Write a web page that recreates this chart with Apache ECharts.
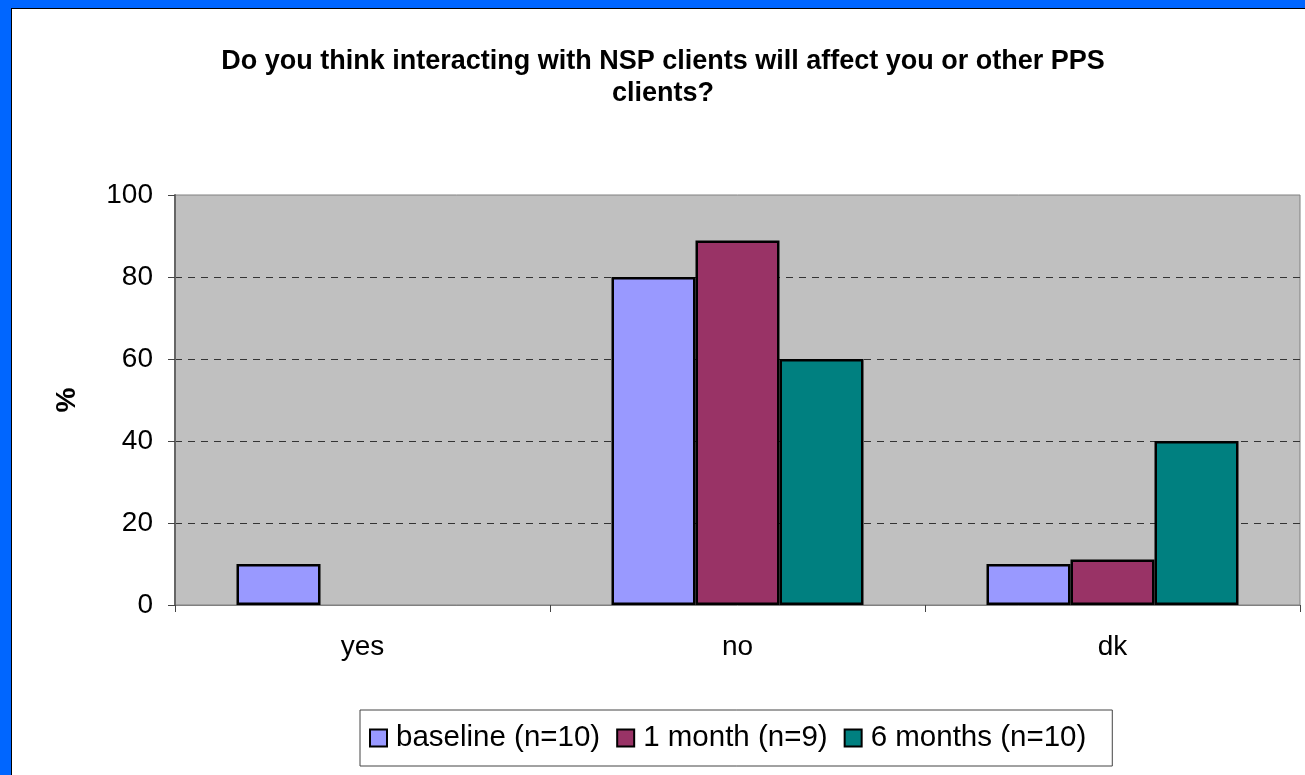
<!DOCTYPE html>
<html>
<head>
<meta charset="utf-8">
<script src="https://cdn.jsdelivr.net/npm/echarts@6/dist/echarts.min.js"></script>
<style>
html,body{margin:0;padding:0;background:#0066FF;width:1305px;height:775px;overflow:hidden;}
#frame{position:absolute;left:11px;top:8px;width:1310px;height:780px;background:#fff;border-left:1px solid #000;border-top:1px solid #000;}
#chart{position:absolute;left:0;top:0;width:1305px;height:775px;}
</style>
</head>
<body>
<div id="frame"></div>
<div id="chart"></div>
<script>
const titleText = 'Do you think interacting with NSP clients will affect you or other PPS\nclients?';
const categories = ['yes', 'no', 'dk'];
const seriesNames = ['baseline (n=10)', '1 month (n=9)', '6 months (n=10)'];
const baseline = [10, 80, 10];
const month1 = [0, 88.9, 11.1];
const months6 = [0, 60, 40];
const yTicks = { min: 0, max: 100, interval: 20 };
const colors = ['#9999FF', '#993366', '#008080'];

const font = '"Liberation Sans", Arial, sans-serif';
const chart = echarts.init(document.getElementById('chart'), null, { renderer: 'canvas' });
const values = [baseline, month1, months6];
chart.setOption({
  backgroundColor: 'transparent',
  textStyle: { fontFamily: font },
  title: {
    text: titleText,
    left: 658,
    textAlign: 'center',
    top: 41,
    textStyle: { fontFamily: font, fontWeight: 'bold', fontSize: 27, color: '#000', lineHeight: 32 }
  },
  legend: {
    left: 360,
    top: 710,
    data: seriesNames,
    icon: 'rect',
    itemWidth: 17,
    itemHeight: 17,
    itemGap: 16,
    padding: [13, 26, 13, 9],
    borderColor: '#444',
    borderWidth: 1,
    textStyle: { fontFamily: font, fontSize: 29.5, color: '#000', padding: [0, 0, 0, 4] }
  },
  grid: {
    left: 175, top: 195, width: 1125, height: 410,
    show: true, backgroundColor: '#C0C0C0', borderColor: '#808080', borderWidth: 1,
    containLabel: false
  },
  xAxis: {
    type: 'category',
    data: categories,
    axisLine: { lineStyle: { color: '#808080', width: 1 } },
    axisTick: { show: true, alignWithLabel: false, length: 7, lineStyle: { color: '#444' } },
    axisLabel: { fontFamily: font, fontSize: 28, color: '#000', margin: 28 }
  },
  yAxis: {
    type: 'value',
    min: yTicks.min, max: yTicks.max, interval: yTicks.interval,
    name: '%',
    nameLocation: 'middle',
    nameGap: 94,
    nameTextStyle: { fontFamily: font, fontWeight: 'bold', fontSize: 28, color: '#000' },
    axisLine: { show: true, lineStyle: { color: '#666', width: 2 } },
    axisTick: { show: true, length: 7, lineStyle: { color: '#444' } },
    axisLabel: { fontFamily: font, fontSize: 28, color: '#000', margin: 22 },
    splitLine: { show: true, showMinLine: false, showMaxLine: false, lineStyle: { color: '#333', type: [7, 6], width: 1 } }
  },
  series: seriesNames.map((n, i) => ({
    name: n,
    type: 'bar',
    data: values[i].map(v => v === 0 ? { value: 0, itemStyle: { borderWidth: 0, opacity: 0 } } : v),
    barGap: '0%',
    barCategoryGap: '32.8%',
    itemStyle: { color: colors[i], borderColor: '#000', borderWidth: 2.5 },
    emphasis: { disabled: true }
  })),
  animation: false
});
</script>
</body>
</html>
